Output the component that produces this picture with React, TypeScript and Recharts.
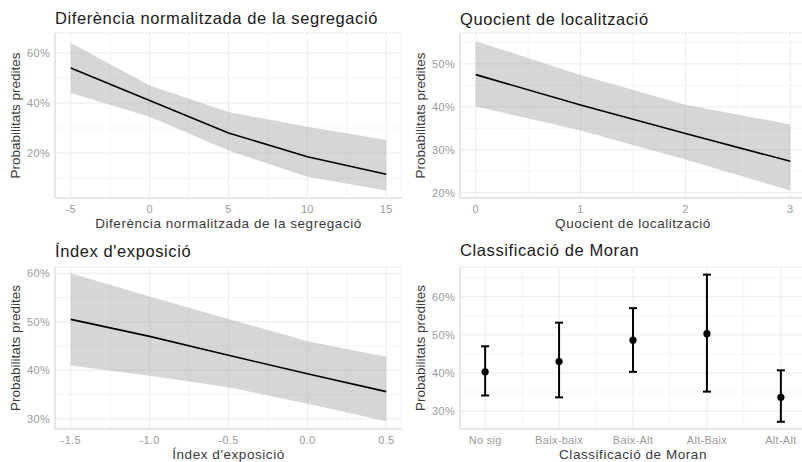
import React from "react"
import {
  ComposedChart, Area, Line, Scatter, ErrorBar, XAxis, YAxis,
  CartesianGrid, ReferenceLine,
} from "recharts"

// Diferència normalitzada de la segregació
const segX = [-5, 0, 5, 10, 15]
const segFit = [54, 41, 28, 18.5, 11.5]
const segLow = [44, 34.5, 21, 10.5, 5]
const segHigh = [64, 47, 36.4, 30.5, 25.2]

// Quocient de localització
const locX = [0, 1, 2, 3]
const locFit = [47.5, 40.4, 33.8, 27.3]
const locLow = [40.1, 34.5, 27.7, 20.5]
const locHigh = [55.3, 47.4, 40.5, 35.9]

// Índex d'exposició
const expX = [-1.5, -1, -0.5, 0, 0.5]
const expFit = [50.5, 47, 43.1, 39.3, 35.6]
const expLow = [41, 38.9, 36.5, 33.1, 29.5]
const expHigh = [60, 55.2, 50.6, 46, 42.8]

// Classificació de Moran
const moranCats = ["No sig", "Baix-baix", "Baix-Alt", "Alt-Baix", "Alt-Alt"]
const moranFit = [40.3, 43, 48.6, 50.3, 33.6]
const moranLow = [34.1, 33.6, 40.3, 35.1, 27.2]
const moranHigh = [47, 53.2, 57, 65.8, 40.7]

const yLabel = "Probabilitats predites"

const segData = segX.map((x, i) => ({ x, fit: segFit[i], band: [segLow[i], segHigh[i]] }))
const locData = locX.map((x, i) => ({ x, fit: locFit[i], band: [locLow[i], locHigh[i]] }))
const expData = expX.map((x, i) => ({ x, fit: expFit[i], band: [expLow[i], expHigh[i]] }))
const moranData = moranCats.map((c, i) => ({
  x: i + 1,
  cat: c,
  fit: moranFit[i],
  err: [moranFit[i] - moranLow[i], moranHigh[i] - moranFit[i]],
}))

const FONT = "'Liberation Sans', Arial, Helvetica, sans-serif"
const MAJOR = "#ebebeb"
const MINOR = "#f4f4f4"
const AXIS = "#d9d9d9"
const TICK = { fill: "#9a9a9a", fontSize: 11, fontFamily: FONT, letterSpacing: 0.3 }

const pct = (v: number) => `${v}%`

type FrameOpts = {
  xDomain: number[]
  xTicks: number[]
  xMinor: number[]
  yDomain: number[]
  yTicks: number[]
  yMinor: number[]
  xLabel: string
  yWidth: number
  yLabelOffset: number
  xFormat?: (v: number) => string
}

// grid, axes and axis titles shared by the four panels
function frame(o: FrameOpts) {
  return [
    ...o.xMinor.map((v) => (
      <ReferenceLine key={"mx" + v} x={v} stroke={MINOR} strokeWidth={1} zIndex={-90} />
    )),
    ...o.yMinor.map((v) => (
      <ReferenceLine key={"my" + v} y={v} stroke={MINOR} strokeWidth={1} zIndex={-90} />
    )),
    <CartesianGrid key="grid" stroke={MAJOR} strokeWidth={1} />,
    <XAxis
      key="xa"
      dataKey="x"
      type="number"
      domain={o.xDomain}
      ticks={o.xTicks}
      allowDataOverflow
      tickFormatter={o.xFormat}
      tickLine={false}
      tickSize={0}
      tickMargin={7}
      axisLine={{ stroke: AXIS }}
      tick={TICK}
      height={33}
      interval={0}
      label={{
        value: o.xLabel, position: "insideBottom", offset: 3, fill: "#3a3a3a",
        fontSize: 13.5, fontFamily: FONT, style: { letterSpacing: 0.55 },
      }}
    />,
    <YAxis
      key="ya"
      type="number"
      domain={o.yDomain}
      ticks={o.yTicks}
      allowDataOverflow
      tickFormatter={pct}
      tickLine={false}
      tickSize={0}
      tickMargin={5}
      axisLine={{ stroke: AXIS }}
      tick={TICK}
      width={o.yWidth}
      interval={0}
      label={{
        value: yLabel, angle: -90, position: "insideLeft", offset: o.yLabelOffset,
        fill: "#3a3a3a", fontSize: 13.5, fontFamily: FONT, style: { textAnchor: "middle" },
      }}
    />,
  ]
}

function Title({ text, left, top }: { text: string; left: number; top: number }) {
  return (
    <div
      style={{
        position: "absolute", left, top, fontFamily: FONT, fontSize: 16.5, letterSpacing: 0.6,
        lineHeight: "16px", color: "#1a1a1a", whiteSpace: "nowrap", zIndex: 2,
      }}
    >
      {text}
    </div>
  )
}

export default function App() {
  return (
    <div style={{ position: "relative", width: 802, height: 462, overflow: "hidden", background: "#fff" }}>
      <style>{"body{margin:0}"}</style>

      <Title text="Diferència normalitzada de la segregació" left={55} top={10} />
      <div style={{ position: "absolute", left: 0, top: 0 }}>
        <ComposedChart width={402} height={231} data={segData} margin={{ top: 33, right: 0, left: 0, bottom: 0 }}>
          {frame({
            xDomain: [-6, 16], xTicks: segX, xMinor: [-2.5, 2.5, 7.5, 12.5],
            yDomain: [2, 68], yTicks: [20, 40, 60], yMinor: [10, 30, 50],
            xLabel: "Diferència normalitzada de la segregació", yWidth: 55, yLabelOffset: 15,
          })}
          <Area dataKey="band" stroke="none" fill="#999999" fillOpacity={0.4} isAnimationActive={false} />
          <Line dataKey="fit" stroke="#000" strokeWidth={1.6} dot={false} isAnimationActive={false} />
        </ComposedChart>
      </div>

      <Title text="Quocient de localització" left={460} top={11} />
      <div style={{ position: "absolute", left: 402, top: 0 }}>
        <ComposedChart width={404} height={231} data={locData} margin={{ top: 33, right: 0, left: 0, bottom: 0 }}>
          {frame({
            xDomain: [-0.15, 3.15], xTicks: locX, xMinor: [0.5, 1.5, 2.5],
            yDomain: [18.75, 57.2], yTicks: [20, 30, 40, 50], yMinor: [25, 35, 45, 55],
            xLabel: "Quocient de localització", yWidth: 58, yLabelOffset: 18,
          })}
          <Area dataKey="band" stroke="none" fill="#999999" fillOpacity={0.4} isAnimationActive={false} />
          <Line dataKey="fit" stroke="#000" strokeWidth={1.6} dot={false} isAnimationActive={false} />
        </ComposedChart>
      </div>

      <Title text="Índex d'exposició" left={55} top={243} />
      <div style={{ position: "absolute", left: 0, top: 231 }}>
        <ComposedChart width={402} height={231} data={expData} margin={{ top: 36, right: 0, left: 0, bottom: 0 }}>
          {frame({
            xDomain: [-1.6, 0.6], xTicks: expX, xMinor: [-1.25, -0.75, -0.25, 0.25],
            yDomain: [27.9, 61.3], yTicks: [30, 40, 50, 60], yMinor: [35, 45, 55],
            xLabel: "Índex d'exposició", yWidth: 55, yLabelOffset: 15,
            xFormat: (v: number) => v.toFixed(1),
          })}
          <Area dataKey="band" stroke="none" fill="#999999" fillOpacity={0.4} isAnimationActive={false} />
          <Line dataKey="fit" stroke="#000" strokeWidth={1.6} dot={false} isAnimationActive={false} />
        </ComposedChart>
      </div>

      <Title text="Classificació de Moran" left={460} top={242} />
      <div style={{ position: "absolute", left: 402, top: 231 }}>
        <ComposedChart width={404} height={231} data={moranData} margin={{ top: 36, right: 0, left: 0, bottom: 0 }}>
          {frame({
            xDomain: [0.66, 5.34], xTicks: [1, 2, 3, 4, 5], xMinor: [1.5, 2.5, 3.5, 4.5],
            yDomain: [25.3, 67.8], yTicks: [30, 40, 50, 60], yMinor: [35, 45, 55, 65],
            xLabel: "Classificació de Moran", yWidth: 58, yLabelOffset: 18,
            xFormat: (v: number) => moranCats[v - 1],
          })}
          <Scatter
            dataKey="fit"
            isAnimationActive={false}
            shape={(p: any) => <circle cx={p.cx} cy={p.cy} r={3.6} fill="#000" />}
          >
            <ErrorBar dataKey="err" direction="y" width={4} stroke="#000" strokeWidth={2} isAnimationActive={false} />
          </Scatter>
        </ComposedChart>
      </div>
    </div>
  )
}
